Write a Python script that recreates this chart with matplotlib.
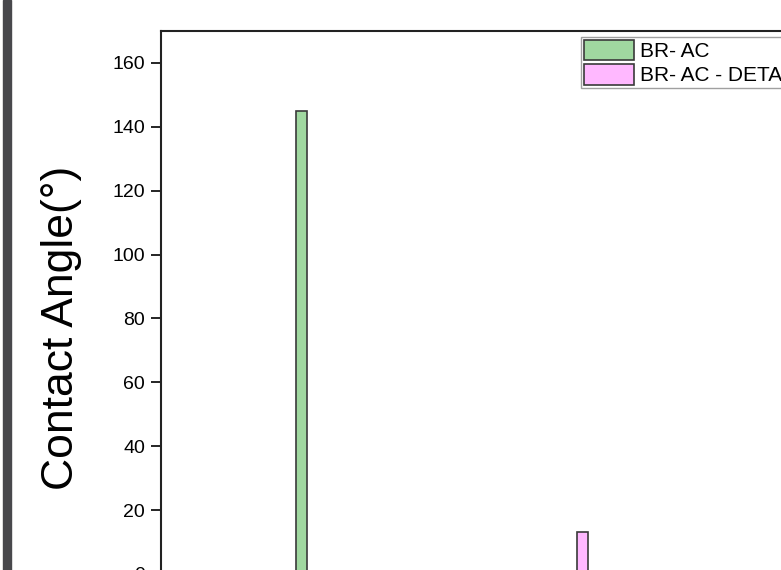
import matplotlib.pyplot as plt
from matplotlib.patches import Rectangle

plt.rcParams['font.family'] = ['Liberation Sans', 'DejaVu Sans']

samples = ['BR- AC', 'BR- AC - DETA']
positions = [1, 2]
angles = [145, 13]
colors = ['#a0d8a0', '#ffb8ff']
yticks = [0, 20, 40, 60, 80, 100, 120, 140, 160]

W, H = 781, 570
fig = plt.figure(figsize=(W / 100, H / 100), dpi=100)

# axes runs past the right and bottom edge, like the cropped screenshot
left, top, bottom = 161, 31, 574
ax = fig.add_axes([left / W, 1 - bottom / H, 702 / W, (bottom - top) / H])

for p, a, c, s in zip(positions, angles, colors, samples):
    ax.bar(p, a, width=0.04, color=c, edgecolor='#3a3a3a', linewidth=1.2, label=s)

ax.set_xlim(0.5, 3.0)
ax.set_ylim(0, 170)
ax.set_yticks(yticks)
ax.set_xticks([])
ax.tick_params(axis='y', direction='out', length=7.5, width=1.2, labelsize=14, pad=4)
for sp in ax.spines.values():
    sp.set_linewidth(1.5)
    sp.set_color('#222222')

ax.set_ylabel('Contact Angle(°)', fontsize=32)
ax.yaxis.set_label_coords(-0.112, 0.453)

leg = ax.legend(loc='upper left', bbox_to_anchor=(581 / W, 1 - 37 / H),
                bbox_transform=fig.transFigure, fontsize=15, frameon=True,
                fancybox=False, edgecolor='#888888', borderpad=0.12,
                borderaxespad=0, handlelength=2.4, handleheight=1.15,
                handletextpad=0.3, labelspacing=0.15)
leg.get_frame().set_linewidth(1.0)

# dark strip on the left edge of the screenshot
fig.patches.append(Rectangle((3 / W, 0), 8 / W, 1, transform=fig.transFigure,
                             color='#48484c', zorder=10))

fig.savefig('out.png', dpi=100)
